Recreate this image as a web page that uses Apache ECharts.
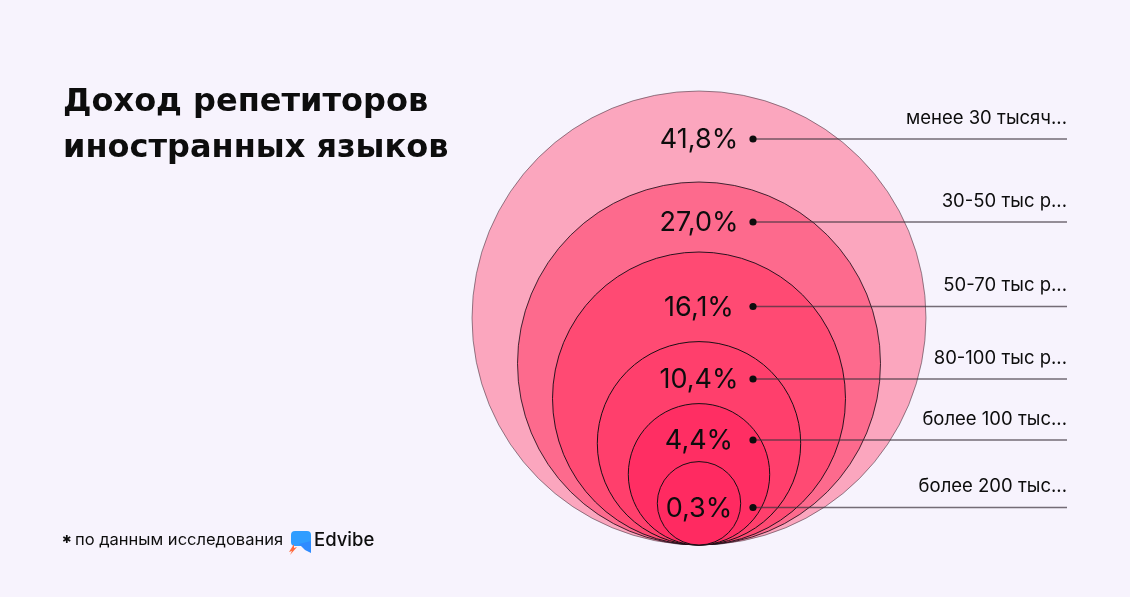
<!DOCTYPE html>
<html>
<head>
<meta charset="utf-8">
<script src="https://cdn.jsdelivr.net/npm/echarts@6/dist/echarts.min.js"></script>
<style>
html,body{margin:0;padding:0;background:#f7f3fd;}
#chart{width:1130px;height:597px;}
</style>
</head>
<body>
<div id="chart"></div>
<script>
// ---- data ----
const categories = ['менее 30 тысяч...', '30-50 тыс р...', '50-70 тыс р...', '80-100 тыс р...', 'более 100 тыс...', 'более 200 тыс...'];
const values = [41.8, 27.0, 16.1, 10.4, 4.4, 0.3];
const titleText = 'Доход репетиторов\nиностранных языков';
const footnoteText = 'по данным исследования';
const brandText = 'Edvibe';

// ---- layout (pixel-unit axes spanning the canvas) ----
const W = 1130, H = 597;
const circleCenterX = 699, circleBottom = 545;
const circleRadii = [227, 181.5, 146.5, 101.7, 70.7, 41.7];
const rowY = [139, 222, 306.5, 379, 440, 507.5];
const dotX = 753, lineEndX = 1067;
const fills = ['#fba6be', '#fd6a8d', '#ff4a73', '#ff3f6c', '#ff2e63', '#ff2a61'];
const strokes = ['rgba(60,50,60,0.55)', 'rgba(20,10,20,0.8)', 'rgba(20,10,20,0.9)', '#1a0f14', '#1a0f14', '#1a0f14'];
const fontFam = 'Inter, "Noto Sans", sans-serif';
const titleFam = '"DejaVu Sans", Inter, sans-serif';

const fmt = v => v.toFixed(1).replace('.', ',') + '%';

const chart = echarts.init(document.getElementById('chart'), null, {renderer: 'canvas'});
chart.setOption({
  backgroundColor: '#f7f3fd',
  animation: false,
  title: {
    text: titleText,
    left: 58, top: 75, padding: 5,
    textStyle: {fontFamily: titleFam, fontSize: 32, fontWeight: 700, lineHeight: 46, color: '#0d0d0d'}
  },
  grid: {left: 0, right: 0, top: 0, bottom: 0},
  xAxis: {type: 'value', min: 0, max: W, show: false},
  yAxis: {type: 'value', min: 0, max: H, inverse: true, show: false},
  series: [{
    type: 'custom',
    coordinateSystem: 'cartesian2d',
    data: values.map((v, i) => [i, v]),
    renderItem: function (params, api) {
      const i = api.value(0);
      const v = api.value(1);
      const r = circleRadii[i];
      const c = api.coord([circleCenterX, circleBottom - r]);
      const rp = api.size([r, r])[0];
      const rowP = api.coord([dotX, rowY[i]]);
      const endP = api.coord([lineEndX, rowY[i]]);
      const labP = api.coord([circleCenterX, rowY[i]]);
      return {
        type: 'group',
        children: [
          {type: 'circle', shape: {cx: c[0], cy: c[1], r: rp}, z2: i,
           style: {fill: fills[i], stroke: strokes[i], lineWidth: 1}},
          {type: 'line', shape: {x1: rowP[0], y1: rowP[1], x2: endP[0], y2: endP[1]}, z2: 100,
           style: {stroke: 'rgba(60,50,60,0.7)', lineWidth: 1.6}},
          {type: 'circle', shape: {cx: rowP[0], cy: rowP[1], r: 3.6}, z2: 101,
           style: {fill: '#0d0d0d'}},
          {type: 'text', x: labP[0], y: labP[1] + 1, z2: 102,
           style: {text: fmt(v), fill: '#0d0d0d', font: '400 27px ' + fontFam, align: 'center', verticalAlign: 'middle'}},
          {type: 'text', x: endP[0], y: endP[1] - 21, z2: 102,
           style: {text: categories[i], fill: '#0d0d0d', font: '400 18.5px ' + fontFam, align: 'right', verticalAlign: 'middle'}}
        ]
      };
    }
  }],
  graphic: {
    elements: [
      {type: 'text', x: 62, y: 535, style: {text: '✱', fill: '#0d0d0d', font: '700 11px "DejaVu Sans", sans-serif'}},
      {type: 'text', x: 75, y: 532, style: {text: footnoteText, fill: '#0d0d0d', font: '400 16.5px ' + fontFam}},
      {type: 'rect', x: 291, y: 531, shape: {x: 0, y: 0, width: 20, height: 15, r: 4},
       style: {fill: '#2f9dff'}},
      {type: 'polygon', x: 291, y: 531, shape: {points: [[8, 13], [20, 10], [20, 22], [14, 19]]},
       style: {fill: '#2f8bff'}},
      {type: 'polygon', x: 288, y: 544, shape: {points: [[6, 0], [1, 8], [4, 7], [2, 11], [9, 3], [6, 4]]},
       style: {fill: '#ff6a3d'}},
      {type: 'text', x: 314, y: 531, style: {text: brandText, fill: '#0d0d0d', font: '500 18.5px ' + fontFam}}
    ]
  }
});
</script>
</body>
</html>
